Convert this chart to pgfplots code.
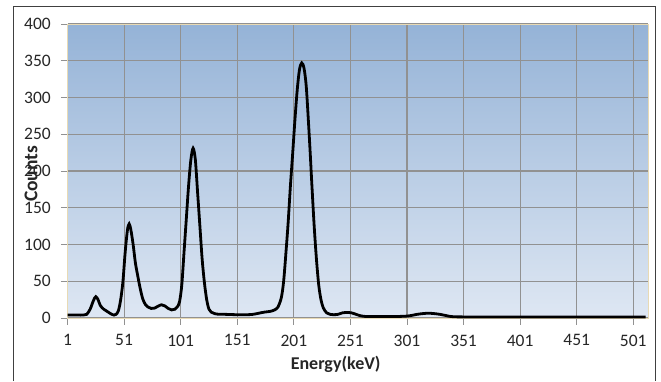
\documentclass[border=0pt]{standalone}
\usepackage{pgfplots}
\pgfplotsset{compat=1.18}
\usepackage{fontspec}
\setmainfont{Carlito}
\definecolor{bgtop}{RGB}{149,179,215}
\definecolor{bgbot}{RGB}{222,231,243}
\definecolor{edge}{RGB}{232,218,180}
\definecolor{gridc}{RGB}{145,145,145}
\definecolor{txt}{RGB}{38,38,38}
\begin{document}
\begin{tikzpicture}[x=1pt,y=1pt]
\path[use as bounding box] (0,0) rectangle (661,381);
\draw[line width=1pt, color={rgb,255:red,64;green,64;blue,64}] (13,0) -- (13,374) -- (655,374) -- (655,0);
\begin{axis}[
  at={(67.5pt,63pt)}, anchor=south west,
  scale only axis, width=580.5pt, height=294pt,
  xmin=1, xmax=514, ymin=0, ymax=400,
  xtick={1,51,...,501}, ytick={0,50,...,400},
  tick pos=left, tick align=outside, major tick length=6.5pt,
  tick style={gridc, line width=0.9pt},
  grid=major, major grid style={gridc, line width=1.1pt},
  axis line style={edge, line width=1pt},
  axis background/.style={top color=bgtop, bottom color=bgbot, draw=none},
  /pgf/number format/assume math mode=true,
  ticklabel style={font=\fontsize{17.5}{19}\selectfont, text=txt, inner sep=0pt},
  xticklabel style={anchor=north, yshift=-10pt},
  yticklabel style={anchor=east, xshift=-10pt},
  ylabel={Counts}, xlabel={Energy(keV)},
  every axis y label/.style={at={(axis description cs:-0.0629,0.49)}, anchor=center, rotate=90, font=\bfseries\fontsize{19.5}{21}\selectfont, text=txt},
  every axis x label/.style={at={(axis description cs:0.462,-0.156)}, anchor=center, font=\bfseries\fontsize{18}{20}\selectfont, text=txt},
]
\addplot[black, line width=2.8pt, smooth, tension=0.5] coordinates {
(1,4) (5,4) (10,4) (15,4) (18,5) (21,12) (24,24) (26,29) (28,25) (30,17) (33,12) (36,9) (39,6) (42,4) (44,5) (46,10) (48,25) (50,50) (52,90) (54,120) (55.5,128) (57,120) (59,100) (61,75) (63,58) (65,42) (67.5,26) (70,18) (72,15) (75,13) (78,13.5) (81,16) (84,18) (87,16.5) (90,13) (93,11) (96,12) (98,15) (100,22) (102,45) (104,90) (106,135) (108,180) (110,215) (112,231) (114,215) (116,170) (118,125) (120,80) (122,48) (124,25) (126,12) (128,8) (131,6) (135,5) (140,5) (150,4.5) (160,4.5) (165,5) (170,6.5) (175,8) (180,9) (184,11) (187,15) (190,28) (192,50) (194,88) (196,130) (198,180) (200,224) (202,270) (204,310) (206,338) (208,347) (210,340) (212,315) (214,265) (215.5,224) (217,180) (219,125) (221,80) (223,45) (225,25) (227,14) (230,7) (233,5) (236,4.5) (240,5) (244,7) (248,7.5) (252,7) (256,5) (260,3) (265,2) (270,2) (280,2) (290,2) (300,2.5) (305,3.5) (310,5) (315,6) (320,6.5) (325,6) (330,5) (335,3.5) (340,2) (350,1.5) (400,1.5) (450,1.5) (512,1.5)
};
\end{axis}
\end{tikzpicture}
\end{document}
